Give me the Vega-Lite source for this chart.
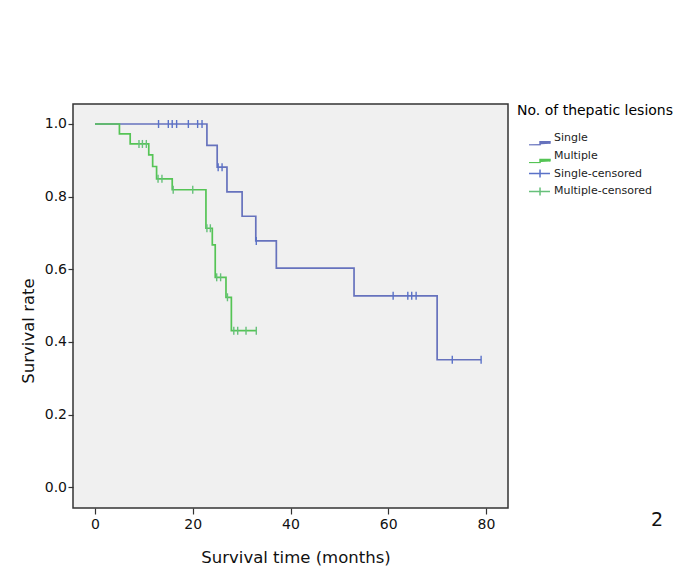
{
  "$schema": "https://vega.github.io/schema/vega-lite/v6.json",
  "width": 435,
  "height": 404,
  "autosize": {"type": "none"},
  "padding": {"left": 73, "top": 104, "right": 173, "bottom": 66},
  "background": "white",
  "config": {
    "font": "DejaVu Sans",
    "view": {"fill": "#f0f0f0", "stroke": "#333333", "strokeWidth": 1.5},
    "axis": {
      "domain": false, "grid": false,
      "labelFont": "DejaVu Sans", "labelFontSize": 14, "labelColor": "#111111",
      "tickColor": "#333333", "tickWidth": 1.2,
      "titleFont": "DejaVu Sans", "titleFontSize": 16.5, "titleFontWeight": "normal", "titleColor": "#111111"
    },
    "legend": {
      "orient": "right", "offset": 9, "padding": 0,
      "titleFont": "DejaVu Sans", "titleFontSize": 14, "titleFontWeight": "normal", "titleColor": "#000000",
      "titlePadding": 12.5,
      "labelFont": "DejaVu Sans", "labelFontSize": 11, "labelColor": "#222222",
      "symbolSize": 441, "symbolOffset": 11, "labelOffset": 3,
      "clipHeight": 15, "rowPadding": 2.8, "symbolStrokeWidth": 1.5
    }
  },
  "datasets": {
    "curves": [
      {"group": "Single", "time": 0, "surv": 1.0},
      {"group": "Single", "time": 22.9, "surv": 0.941},
      {"group": "Single", "time": 25.0, "surv": 0.881},
      {"group": "Single", "time": 27.0, "surv": 0.813},
      {"group": "Single", "time": 30.1, "surv": 0.746},
      {"group": "Single", "time": 32.9, "surv": 0.678},
      {"group": "Single", "time": 37.1, "surv": 0.603},
      {"group": "Single", "time": 53.0, "surv": 0.527},
      {"group": "Single", "time": 70.0, "surv": 0.351},
      {"group": "Single", "time": 79.0, "surv": 0.351},
      {"group": "Multiple", "time": 0, "surv": 1.0},
      {"group": "Multiple", "time": 5.0, "surv": 0.973},
      {"group": "Multiple", "time": 7.2, "surv": 0.945},
      {"group": "Multiple", "time": 11.0, "surv": 0.915},
      {"group": "Multiple", "time": 11.8, "surv": 0.883},
      {"group": "Multiple", "time": 12.6, "surv": 0.849},
      {"group": "Multiple", "time": 15.8, "surv": 0.819},
      {"group": "Multiple", "time": 22.7, "surv": 0.713},
      {"group": "Multiple", "time": 24.0, "surv": 0.667},
      {"group": "Multiple", "time": 24.6, "surv": 0.578},
      {"group": "Multiple", "time": 26.8, "surv": 0.523},
      {"group": "Multiple", "time": 27.9, "surv": 0.431},
      {"group": "Multiple", "time": 33.0, "surv": 0.431}
    ],
    "censored": [
      {"group": "Single-censored", "time": 13.0, "surv": 1.0},
      {"group": "Single-censored", "time": 15.0, "surv": 1.0},
      {"group": "Single-censored", "time": 15.8, "surv": 1.0},
      {"group": "Single-censored", "time": 16.7, "surv": 1.0},
      {"group": "Single-censored", "time": 19.1, "surv": 1.0},
      {"group": "Single-censored", "time": 21.0, "surv": 1.0},
      {"group": "Single-censored", "time": 21.9, "surv": 1.0},
      {"group": "Single-censored", "time": 25.2, "surv": 0.881},
      {"group": "Single-censored", "time": 26.0, "surv": 0.881},
      {"group": "Single-censored", "time": 33.0, "surv": 0.678},
      {"group": "Single-censored", "time": 61.0, "surv": 0.527},
      {"group": "Single-censored", "time": 64.0, "surv": 0.527},
      {"group": "Single-censored", "time": 64.8, "surv": 0.527},
      {"group": "Single-censored", "time": 65.7, "surv": 0.527},
      {"group": "Single-censored", "time": 73.1, "surv": 0.351},
      {"group": "Single-censored", "time": 79.0, "surv": 0.351},
      {"group": "Multiple-censored", "time": 9.0, "surv": 0.945},
      {"group": "Multiple-censored", "time": 9.7, "surv": 0.945},
      {"group": "Multiple-censored", "time": 10.5, "surv": 0.945},
      {"group": "Multiple-censored", "time": 12.9, "surv": 0.849},
      {"group": "Multiple-censored", "time": 13.7, "surv": 0.849},
      {"group": "Multiple-censored", "time": 16.0, "surv": 0.819},
      {"group": "Multiple-censored", "time": 20.0, "surv": 0.819},
      {"group": "Multiple-censored", "time": 22.9, "surv": 0.713},
      {"group": "Multiple-censored", "time": 23.6, "surv": 0.713},
      {"group": "Multiple-censored", "time": 24.9, "surv": 0.578},
      {"group": "Multiple-censored", "time": 25.7, "surv": 0.578},
      {"group": "Multiple-censored", "time": 27.1, "surv": 0.523},
      {"group": "Multiple-censored", "time": 28.4, "surv": 0.431},
      {"group": "Multiple-censored", "time": 29.2, "surv": 0.431},
      {"group": "Multiple-censored", "time": 30.9, "surv": 0.431},
      {"group": "Multiple-censored", "time": 33.0, "surv": 0.431}
    ]
  },
  "layer": [
    {
      "encoding": {
        "x": {
          "field": "time", "type": "quantitative",
          "scale": {"domain": [-4.5, 84.5], "nice": false, "zero": false},
          "axis": {
            "values": [0, 20, 40, 60, 80], "tickSize": 6, "labelPadding": 3,
            "title": "Survival time (months)", "titleX": 222.5, "titleY": 54,
            "titleBaseline": "alphabetic", "titleAlign": "center"
          }
        },
        "y": {
          "field": "surv", "type": "quantitative",
          "scale": {"domain": [-0.057, 1.055], "nice": false, "zero": false},
          "axis": {
            "values": [0, 0.2, 0.4, 0.6, 0.8, 1.0], "format": ".1f", "tickSize": 5, "labelPadding": 1.5,
            "title": "Survival rate", "titleX": -40, "titleY": 226.5,
            "titleBaseline": "alphabetic", "titleAlign": "center", "titleAngle": 270
          }
        },
        "color": {
          "field": "group", "type": "nominal",
          "scale": {
            "domain": ["Single", "Multiple", "Single-censored", "Multiple-censored"],
            "range": ["#6672bd", "#55c455", "#5a72c8", "#66c07a"]
          },
          "legend": {
            "title": "No. of thepatic lesions",
            "encode": {
              "symbols": {
                "update": {
                  "shape": {"signal": "indexof(datum.value, 'censored') > 0 ? 'M-1,0H1M0.05,-0.38V0.38' : 'M-1,0.67H0.05V0.35H1V0.54'"},
                  "fill": {"value": "transparent"},
                  "stroke": {"scale": "color", "field": "value"},
                  "strokeWidth": {"value": 1.5},
                  "opacity": {"value": 1},
                  "size": {"value": 441}
                }
              }
            }
          }
        }
      },
      "layer": [
        {
          "data": {"name": "curves"},
          "transform": [{"filter": "datum.group === 'Single'"}],
          "mark": {"type": "line", "interpolate": "step-after", "strokeWidth": 1.7}
        },
        {
          "data": {"name": "curves"},
          "transform": [{"filter": "datum.group === 'Multiple'"}],
          "mark": {"type": "line", "interpolate": "step-after", "strokeWidth": 1.7}
        },
        {
          "data": {"name": "censored"},
          "mark": {"type": "tick", "orient": "vertical", "size": 8, "thickness": 1.4, "opacity": 1}
        }
      ]
    },
    {
      "data": {"values": [{"label": "2"}]},
      "mark": {"type": "text", "fontSize": 19, "font": "DejaVu Sans", "align": "center", "baseline": "middle", "color": "#111111"},
      "encoding": {
        "x": {"datum": 115, "type": "quantitative"},
        "y": {"datum": -0.09, "type": "quantitative"},
        "text": {"field": "label"}
      }
    }
  ]
}
